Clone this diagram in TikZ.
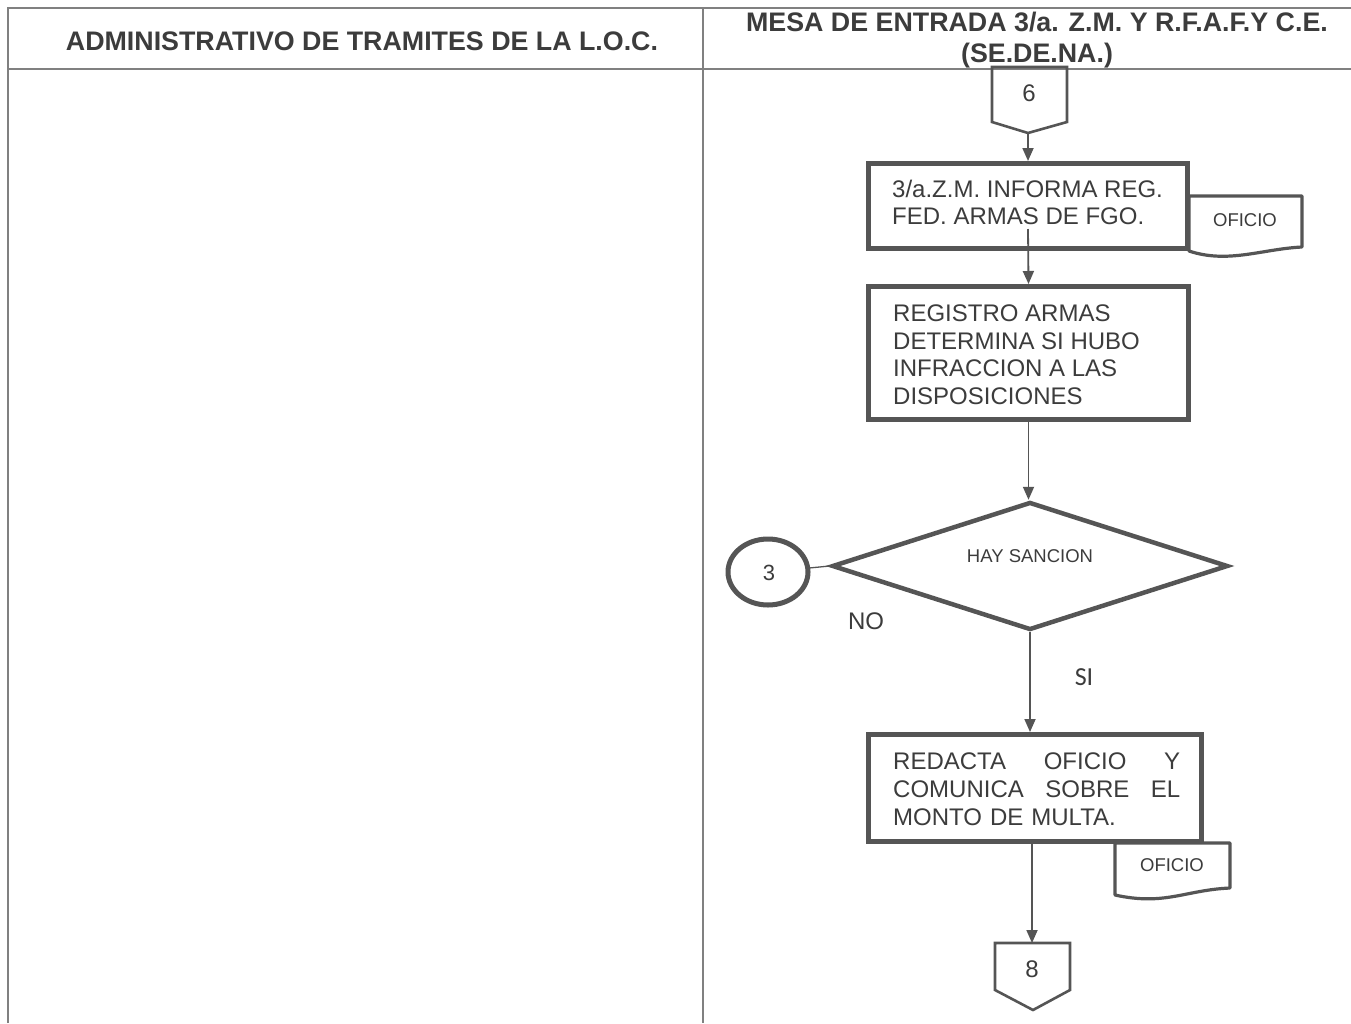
\documentclass[tikz,border=0pt]{standalone}
\usepackage{fontspec}
\setmainfont{Liberation Sans}
\newfontfamily\calib{Carlito}
\usetikzlibrary{arrows.meta,shapes.geometric}
\definecolor{ln}{HTML}{555555}
\definecolor{tx}{HTML}{3C3C3C}
\definecolor{frm}{HTML}{808080}
\begin{document}
\begin{tikzpicture}[x=1pt,y=-1pt,
  frameline/.style={draw=frm, line width=1.8pt},
  hdr/.style={font=\fontsize{26.8}{30}\selectfont\bfseries, text=tx, inner sep=0pt},
  boxtxt/.style={font=\fontsize{24}{27.7}\selectfont, text=tx, inner sep=0pt, align=left, anchor=north west},
  smalltxt/.style={font=\fontsize{18.5}{21}\selectfont, text=tx, inner sep=0pt},
  bigtxt/.style={font=\fontsize{24}{27}\selectfont, text=tx, inner sep=0pt},
  procbox/.style={draw=ln, line width=5pt, rectangle, inner sep=0pt},
  docshape/.style={draw=ln, line width=3.2pt, line join=round, fill=white},
  conn/.style={draw=ln, line width=2.6pt, line join=miter},
  flow/.style={draw=ln, line width=1.8pt, -{Triangle[length=13pt,width=11pt]}},
  plain/.style={draw=ln, line width=1.3pt}
]
\useasboundingbox (0,0) rectangle (1351,1023);
\fill[white] (0,0) rectangle (1351,1023);

% frame
\draw[frameline] (8,1023) -- (8,8) -- (1351,8);
\draw[frameline] (8,69) -- (1351,69);
\draw[frameline] (703,8) -- (703,1023);

% headers
\node[hdr, anchor=base] (h1) at (362,50) {ADMINISTRATIVO DE TRAMITES DE LA L.O.C.};
\node[hdr, anchor=base] (h2a) at (1037,31) {MESA DE ENTRADA 3/a. Z.M. Y R.F.A.F.Y C.E.};
\node[hdr, anchor=base] (h2b) at (1037,62) {(SE.DE.NA.)};

% off-page connector 6
\draw[conn] (992,67) -- (1067,67) -- (1067,122) -- (1028,133) -- (992,122) -- cycle;
\node[bigtxt, anchor=base] (c6) at (1029,101) {6};
\coordinate (c6tip) at (1028,133);

% box 1
\node[procbox, minimum width=319pt, minimum height=85pt] (b1) at (1028,206) {};
\node[boxtxt] (b1t) at (892,179.5) {3/a.Z.M. INFORMA REG.\\FED. ARMAS DE FGO.};

% document 1
\draw[docshape] (1189,196) -- (1302,196) -- (1302,247)
   .. controls (1262,249) and (1228,264) .. (1189,251) -- cycle;
\node[smalltxt] (d1) at (1245,220) {OFICIO};

% box 2
\node[procbox, minimum width=320pt, minimum height=133pt] (b2) at (1028.5,353) {};
\node[boxtxt] (b2t) at (893,304.5) {REGISTRO ARMAS\\DETERMINA SI HUBO\\INFRACCION A LAS\\DISPOSICIONES};

% decision
\node[diamond, draw=ln, line width=4.5pt, inner sep=0pt, minimum width=396pt, minimum height=128pt] (d) at (1030,566) {};
\node[smalltxt] (dt) at (1030,556) {HAY SANCION};

% connector 3
\node[ellipse, draw=ln, line width=5pt, inner sep=0pt, minimum width=80pt, minimum height=66pt] (c3) at (768,572) {};
\node[bigtxt, font=\fontsize{22}{24}\selectfont] (c3t) at (769,573) {3};

\node[bigtxt, anchor=base] (no) at (866,629) {NO};
\node[bigtxt, font=\calib\fontsize{26}{28}\selectfont, anchor=base] (si) at (1084,685) {SI};

% box 3
\node[procbox, minimum width=333pt, minimum height=107pt] (b3) at (1035,788) {};
\node[boxtxt, text width=287pt] (b3t) at (893,753) {REDACTA\hfill OFICIO\hfill Y\\COMUNICA\hfill SOBRE\hfill EL\\MONTO DE MULTA.};

% document 2
\draw[docshape] (1115,843) -- (1230,843) -- (1230,888)
   .. controls (1185,890) and (1165,906) .. (1115,895) -- cycle;
\node[smalltxt] (d2) at (1172,865) {OFICIO};

% connector 8
\draw[conn] (995,943) -- (1070,943) -- (1070,990) -- (1033,1010) -- (995,990) -- cycle;
\node[bigtxt, anchor=base] (c8) at (1032,977) {8};
\coordinate (c8top) at (1032,943);

% flow lines
\draw[flow] (c6tip) -- (b1.north);
\draw[flow] ([yshift=22pt]b1.south) -- (b2.north);
\draw[flow] (b2.south) -- (b2.south |- d.north);
\draw[plain] (d.west) -- (c3);
\draw[flow] (d.south) -- (d.south |- b3.north);
\draw[flow] (b3.south -| c8top) -- (c8top);
\end{tikzpicture}
\end{document}
